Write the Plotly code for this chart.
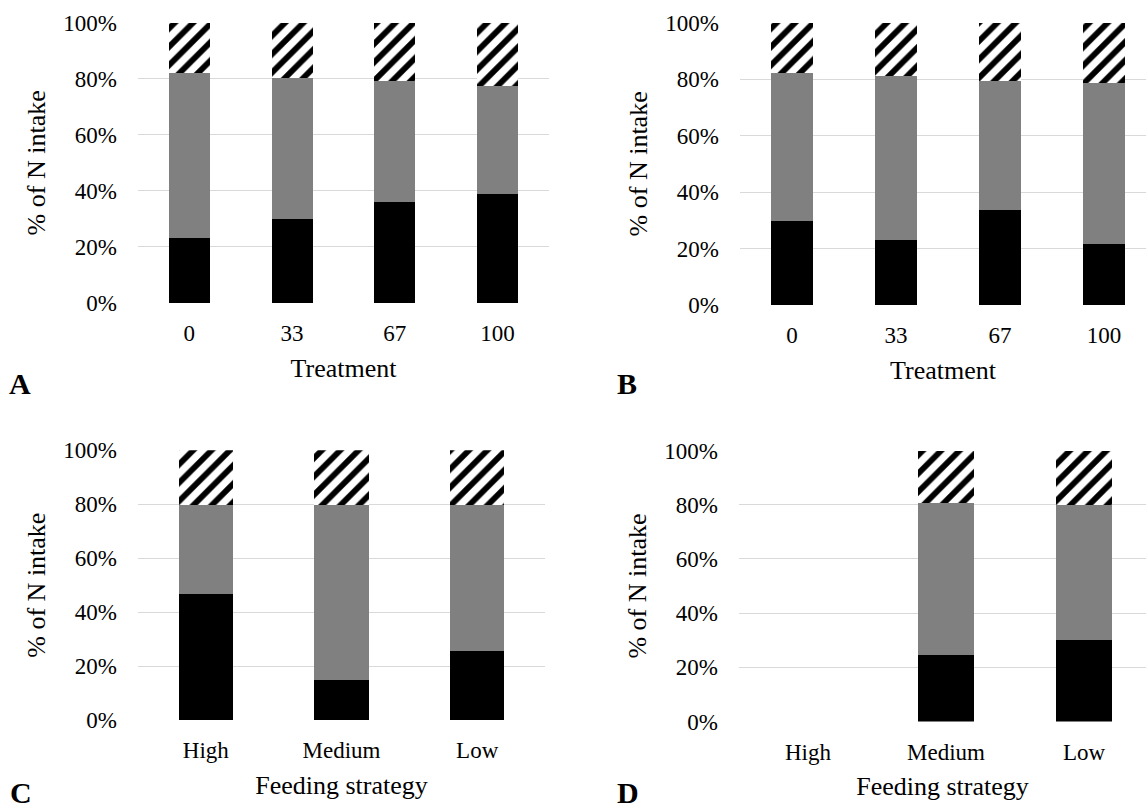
import plotly.graph_objects as go

# ---------------- data ----------------
treatments = ["0", "33", "67", "100"]
strategies = ["High", "Medium", "Low"]

# Panel A (% of N intake)
a_black = [23.2, 29.8, 36.1, 39.0]
a_gray = [58.9, 50.4, 43.2, 38.5]
a_hatch = [17.9, 19.8, 20.7, 22.5]

# Panel B
b_black = [29.8, 23.1, 33.6, 21.5]
b_gray = [52.3, 58.0, 45.8, 57.2]
b_hatch = [17.9, 18.9, 20.6, 21.3]

# Panel C
c_black = [46.9, 14.7, 25.7]
c_gray = [32.8, 65.0, 54.0]
c_hatch = [20.3, 20.3, 20.3]

# Panel D (no data for High)
d_black = [None, 24.6, 30.0]
d_gray = [None, 55.9, 49.8]
d_hatch = [None, 19.5, 20.2]

y_ticks = [0, 20, 40, 60, 80, 100]
y_ticktext = ["0%", "20%", "40%", "60%", "80%", "100%"]
panel_letters = ["A", "B", "C", "D"]

FONT = "Liberation Serif, Times New Roman, serif"
W, H = 1146, 812

fig = go.Figure()

panels = [
    (treatments, a_black, a_gray, a_hatch, "x", "y"),
    (treatments, b_black, b_gray, b_hatch, "x2", "y2"),
    (strategies, c_black, c_gray, c_hatch, "x3", "y3"),
    (strategies, d_black, d_gray, d_hatch, "x4", "y4"),
]

for cats, blk, gry, hat, xa, ya in panels:
    fig.add_trace(go.Bar(x=cats, y=blk, name="Black", marker=dict(color="#000000", line=dict(width=0)),
                         width=0.4, xaxis=xa, yaxis=ya, showlegend=False))
    fig.add_trace(go.Bar(x=cats, y=gry, name="Gray", marker=dict(color="#808080", line=dict(width=0)),
                         width=0.4, xaxis=xa, yaxis=ya, showlegend=False))
    fig.add_trace(go.Bar(x=cats, y=hat, name="Hatched",
                         marker=dict(color="#ffffff", line=dict(width=0),
                                     pattern=dict(shape="/", fgcolor="#000000", bgcolor="#ffffff",
                                                  size=13, solidity=0.45, fgopacity=1)),
                         width=0.4, xaxis=xa, yaxis=ya, showlegend=False))


def px_x(a, b):
    return [a / W, b / W]


def px_y(top, bottom):
    return [1 - bottom / H, 1 - top / H]


domains = {
    "A": (px_x(138, 549), px_y(22.7, 303)),
    "B": (px_x(740, 1146), px_y(22.7, 305)),
    "C": (px_x(138, 545), px_y(450.3, 720)),
    "D": (px_x(739, 1146), px_y(450.5, 721.5)),
}
xranges = {"A": [-0.5, 3.5], "B": [-0.5, 3.404], "C": [-0.5, 2.5], "D": [-0.5, 2.449]}
xtitles = {"A": "Treatment", "B": "Treatment", "C": "Feeding strategy", "D": "Feeding strategy"}
cat_map = {"A": treatments, "B": treatments, "C": strategies, "D": strategies}

layout = dict(
    width=W, height=H,
    margin=dict(l=0, r=0, t=0, b=0),
    paper_bgcolor="white", plot_bgcolor="white",
    barmode="stack", bargap=0.6,
    font=dict(family=FONT, color="black", size=23),
    showlegend=False,
)

for i, key in enumerate(["A", "B", "C", "D"]):
    sfx = "" if i == 0 else str(i + 1)
    xd, yd = domains[key]
    layout["xaxis" + sfx] = dict(
        domain=xd, anchor="y" + sfx, type="category", categoryorder="array",
        categoryarray=cat_map[key], range=xranges[key],
        showgrid=False, zeroline=False, showline=False, ticks="",
        tickfont=dict(family=FONT, size=23, color="black"),
        ticklabelstandoff=14, automargin=False,
        title=dict(text=xtitles[key], font=dict(family=FONT, size=26, color="black"), standoff=13),
    )
    layout["yaxis" + sfx] = dict(
        domain=yd, anchor="x" + sfx, range=[0, 100], tickmode="array",
        tickvals=y_ticks, ticktext=y_ticktext,
        showgrid=True, gridcolor="#d9d9d9", gridwidth=1.3, zeroline=False, showline=False, ticks="",
        tickfont=dict(family=FONT, size=23, color="black"),
        ticklabelstandoff=20, automargin=False,
        title=dict(text="% of N intake", font=dict(family=FONT, size=26, color="black"), standoff=10),
    )

fig.update_layout(**layout)

letter_pos = {"A": (20, 402), "B": (627, 402), "C": (21, 811), "D": (628, 811)}
for key in panel_letters:
    x, y = letter_pos[key]
    fig.add_annotation(text="<b>%s</b>" % key, x=x / W, y=1 - y / H, xref="paper", yref="paper",
                       xanchor="center", yanchor="bottom", showarrow=False,
                       font=dict(family=FONT, size=30, color="black"))

fig.write_html("out.html")
